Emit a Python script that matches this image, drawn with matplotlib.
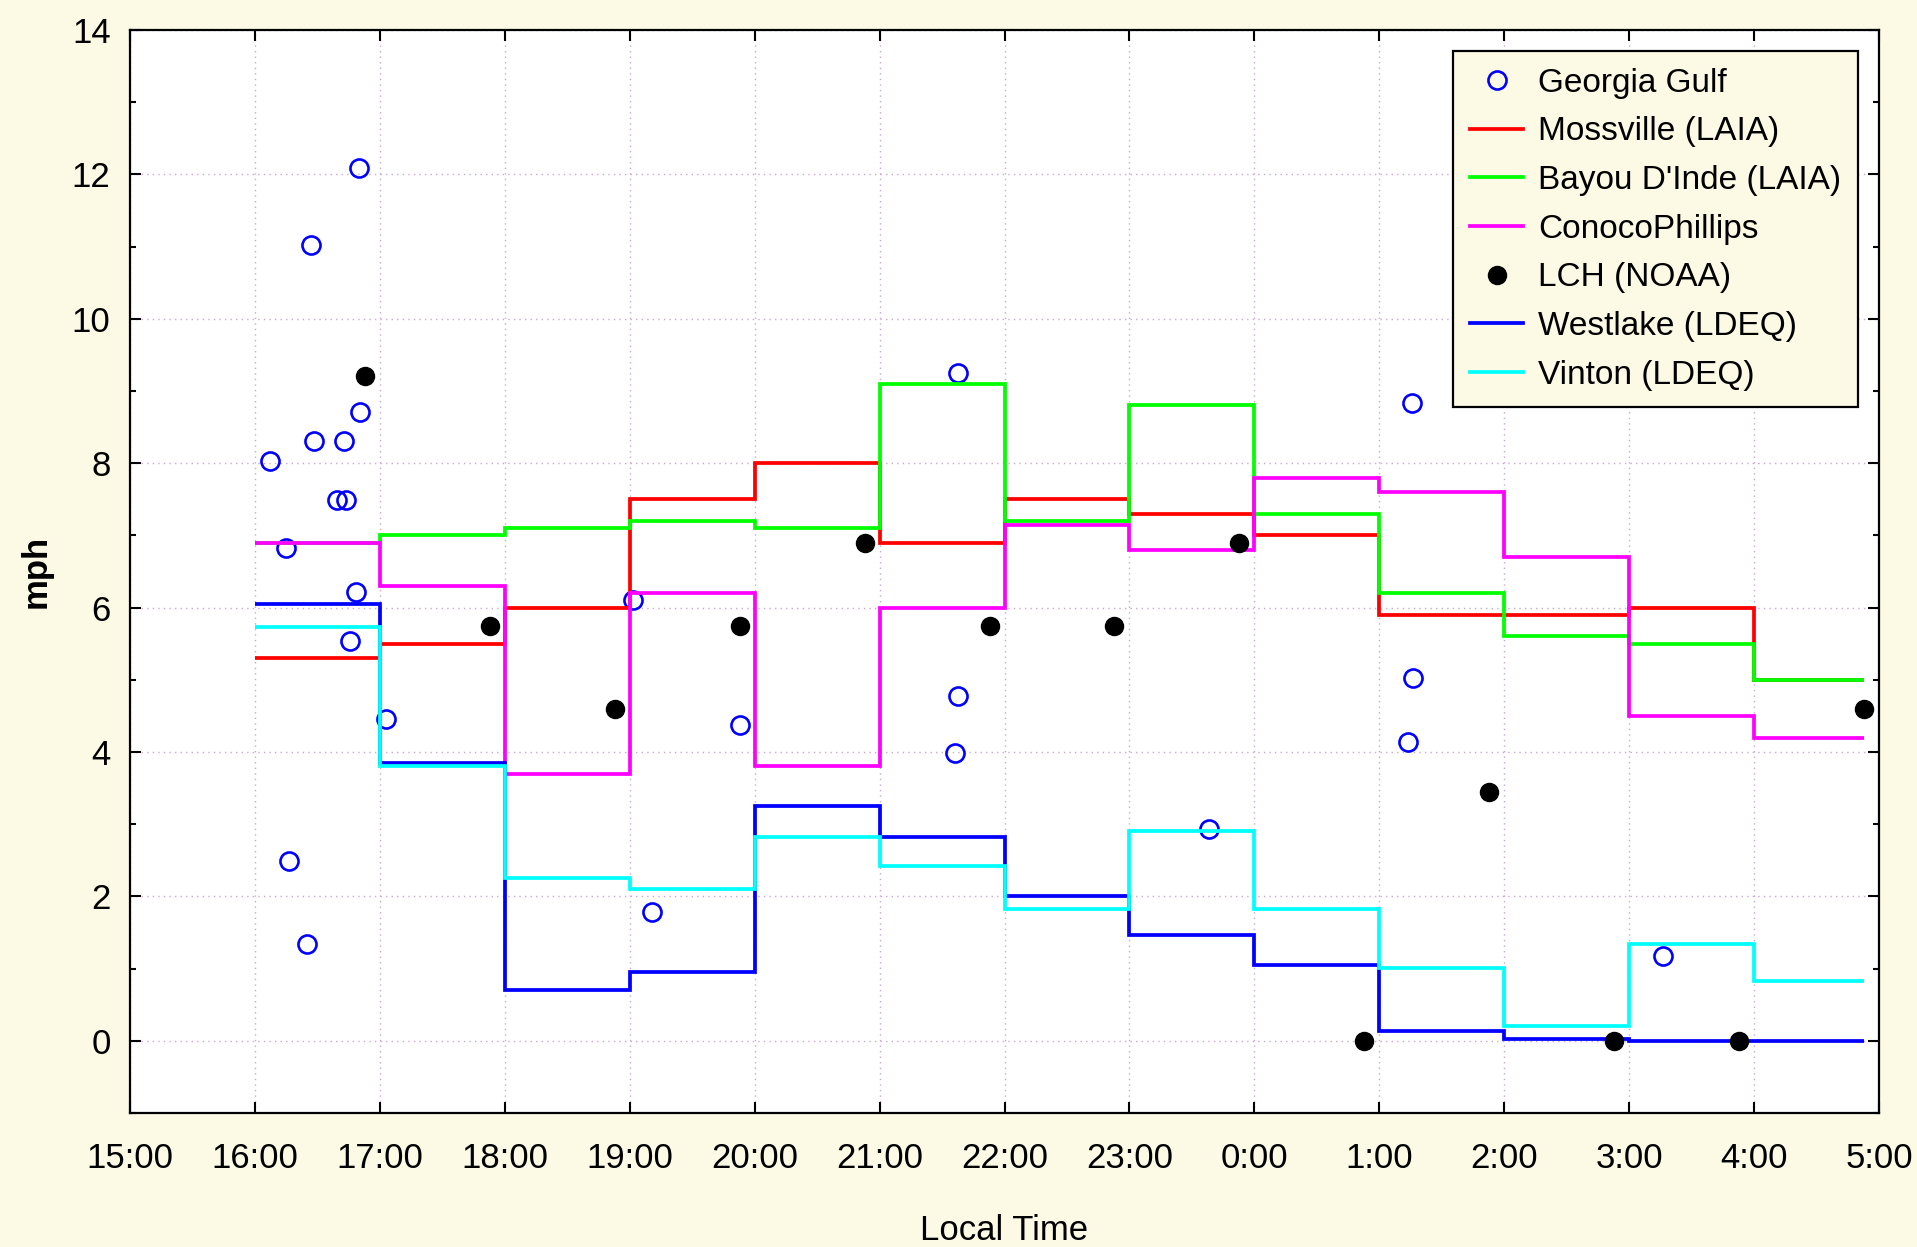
import matplotlib
matplotlib.use("Agg")
import matplotlib.pyplot as plt
from matplotlib.ticker import FixedLocator

# hourly bin edges (hours after midnight of first day, 24 = 0:00)
step_edges = [16, 17, 18, 19, 20, 21, 22, 23, 24, 25, 26, 27, 28, 28.88]

mossville = [5.3, 5.5, 6.0, 7.5, 8.0, 6.9, 7.5, 7.3, 7.0, 5.9, 5.9, 6.0, 5.0]
bayou = [6.9, 7.0, 7.1, 7.2, 7.1, 9.1, 7.2, 8.8, 7.3, 6.2, 5.6, 5.5, 5.0]
conoco = [6.9, 6.3, 3.7, 6.2, 3.8, 6.0, 7.15, 6.8, 7.8, 7.6, 6.7, 4.5, 4.2]
westlake = [6.05, 3.85, 0.7, 0.95, 3.25, 2.82, 2.01, 1.47, 1.05, 0.14, 0.02, 0.0, 0.0]
vinton = [5.73, 3.8, 2.25, 2.1, 2.82, 2.42, 1.83, 2.91, 1.83, 1.01, 0.2, 1.34, 0.83]

gg_time = [16.12, 16.25, 16.27, 16.42, 16.45, 16.47, 16.71, 16.66, 16.73, 16.81,
           16.76, 16.84, 16.83, 17.05, 19.03, 19.18, 19.88, 21.63, 21.63, 21.60,
           23.64, 25.26, 25.27, 25.23, 27.27]
gg_speed = [8.03, 6.83, 2.49, 1.34, 11.02, 8.30, 8.30, 7.49, 7.49, 6.22,
            5.53, 8.71, 12.09, 4.46, 6.10, 1.78, 4.38, 9.25, 4.77, 3.99,
            2.93, 8.83, 5.02, 4.14, 1.18]

lch_time = [16.88, 17.88, 18.88, 19.88, 20.88, 21.88, 22.88, 23.88, 24.88,
            25.88, 26.88, 27.88, 28.88]
lch_speed = [9.2, 5.75, 4.6, 5.75, 6.9, 5.75, 5.75, 6.9, 0.0, 3.45, 0.0, 0.0, 4.6]

hour_ticks = list(range(15, 30))
hour_labels = [f"{h % 24}:00" for h in hour_ticks]

plt.rcParams['font.family'] = ['Liberation Sans', 'DejaVu Sans']

bg = '#fcfae4'
fig = plt.figure(figsize=(19.17, 12.47), dpi=100, facecolor=bg)
ax = fig.add_axes([0.0678, 0.1075, 0.9124, 0.8685])
ax.set_facecolor('white')

lw = 2.7
ax.plot(gg_time, gg_speed, 'o', mfc='none', mec='#0000ff', mew=1.9, ms=13,
        label='Georgia Gulf', zorder=2)
ax.stairs(mossville, step_edges, baseline=None, color='#ff0000', lw=lw,
          label='Mossville (LAIA)', zorder=3)
ax.stairs(bayou, step_edges, baseline=None, color='#00ff00', lw=lw,
          label="Bayou D'Inde (LAIA)", zorder=3)
ax.stairs(conoco, step_edges, baseline=None, color='#ff00ff', lw=lw,
          label='ConocoPhillips', zorder=3)
ax.plot(lch_time, lch_speed, 'o', color='black', ms=13, label='LCH (NOAA)',
        zorder=5)
ax.stairs(westlake, step_edges, baseline=None, color='#0000ff', lw=lw,
          label='Westlake (LDEQ)', zorder=3)
ax.stairs(vinton, step_edges, baseline=None, color='#00ffff', lw=lw,
          label='Vinton (LDEQ)', zorder=3)

ax.set_xlim(15, 29)
ax.set_ylim(-1, 14)
ax.xaxis.set_major_locator(FixedLocator(hour_ticks))
ax.set_xticklabels(hour_labels)
ax.yaxis.set_major_locator(FixedLocator([0, 2, 4, 6, 8, 10, 12, 14]))
ax.yaxis.set_minor_locator(FixedLocator([-1, 1, 3, 5, 7, 9, 11, 13]))

ax.grid(True, which='major', color='#c8a8d0', linestyle=(0, (1, 3)), linewidth=1.0)

ax.tick_params(which='both', direction='in', top=True, right=True, colors='black',
               labelsize=25, width=1.5)
ax.tick_params(which='major', length=8)
ax.tick_params(which='minor', length=4)
ax.tick_params(axis='x', pad=21)
ax.tick_params(axis='y', pad=14)
for s in ax.spines.values():
    s.set_linewidth(1.6)
    s.set_color('black')

ax.set_xlabel('Local Time', fontsize=25, labelpad=28)
ax.set_ylabel('mph', fontsize=25, fontweight='bold', labelpad=14)

leg = ax.legend(loc='upper right', fontsize=24, frameon=True, fancybox=False,
                facecolor=bg, edgecolor='black', framealpha=1.0,
                borderaxespad=0.63, borderpad=0.5, labelspacing=0.53,
                handlelength=1.6, handletextpad=0.45)
leg.get_frame().set_linewidth(1.6)

fig.savefig('out.png', dpi=100, facecolor=bg)
